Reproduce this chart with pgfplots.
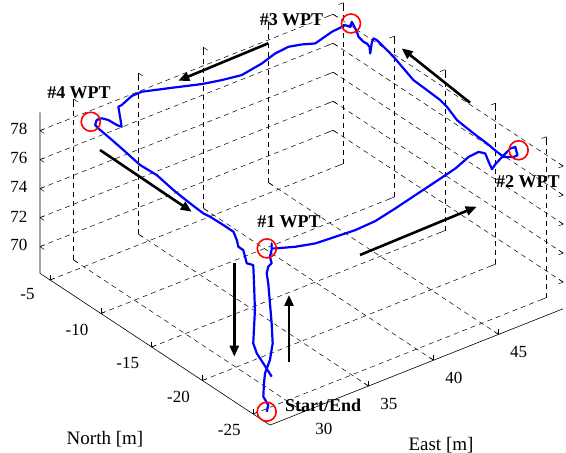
\documentclass[border=0pt]{standalone}
\usepackage{pgfplots}
\pgfplotsset{compat=1.18}
\usepackage{fontspec}
\setmainfont{Liberation Serif}
\usetikzlibrary{arrows.meta}
\begin{document}
\begin{tikzpicture}
\begin{axis}[
  x={(13pt,5.16pt)}, y={(-10.15pt,6.7pt)}, z={(0pt,14.5pt)},
  xmin=27.42, xmax=49.97, ymin=-26.66, ymax=-4, zmin=68.16, zmax=79.26,
  xtick={30,35,40,45}, ytick={-25,-20,-15,-10,-5}, ztick={70,72,74,76,78},
  grid=major,
  major grid style={black, line width=0.5pt, dash pattern=on 5pt off 4pt},
  axis line style={draw=none},
  tick style={black, line width=0.5pt},
  major tick length=5pt,
  tick label style={font=\fontsize{17}{17}\selectfont},
  xticklabel style={xshift=14pt, yshift=-6pt},
  yticklabel style={xshift=-15pt, yshift=-3pt},
  zticklabel style={xshift=-9pt},
  /pgf/number format/assume math mode=true,
  clip=false,
]
\draw[black, line width=0.6pt] (axis cs:27.42,-4,79.26) -- (axis cs:27.42,-4,68.16)
  -- (axis cs:27.42,-26.66,68.16) -- (axis cs:49.97,-26.66,68.16);
\coordinate (C) at (axis cs:27.42,-4,68.16);
\addplot3[blue, line width=2.2pt, line join=round] coordinates {
(28.65,-24.76,67.77) (28.77,-24.76,68.19) (28.39,-24.76,68.90) (28.44,-24.76,69.80)
(28.52,-24.76,70.47) (28.90,-24.76,71.25) (29.11,-24.76,72.32) (29.03,-24.76,73.73)
(28.90,-24.76,75.16) (28.77,-24.76,76.58) (28.65,-24.76,77.31) (28.77,-24.76,77.73)
(29.03,-24.76,77.87) (28.90,-24.76,78.37) (29.03,-24.76,78.79) (29.03,-24.76,79.25)
(29.03,-24.76,78.90)
(29.09,-25.03,79) (30.17,-25.62,79) (31.38,-26.05,79) (32.82,-26.17,79)
(34.27,-26.29,79) (35.88,-26.19,79) (37.77,-25.75,79) (39.70,-25.25,79)
(41.62,-24.76,79) (43.56,-24.25,79) (45.04,-23.66,79) (45.89,-23.56,79)
(46.09,-23.96,79) (45.64,-24.87,79) (45.27,-25.67,79) (45.79,-25.33,79)
(46.65,-24.90,79) (47.66,-24.42,79) (48.01,-24.46,79) (47.51,-25.31,79)
(47.20,-25.33,79) (46.72,-24.96,79)
(46.77,-24.25,79) (46.90,-23.09,79) (46.99,-21.66,79) (47.16,-19.81,79)
(47.64,-18.20,79) (47.81,-17.33,79) (47.90,-15.90,79) (47.98,-14.47,79)
(48.35,-13.01,79) (48.72,-11.56,79) (48.89,-10.69,79) (49.13,-9.39,79)
(49.10,-9.10,79) (48.77,-9.36,79) (47.84,-10.38,79) (48.29,-9.74,79)
(48.41,-9.32,79) (48.37,-9.05,79) (48.49,-8.40,79) (48.78,-7.87,79)
(49.10,-7.12,79) (49.26,-6.75,79) (48.82,-7.16,79) (48.70,-6.81,79)
(48.42,-6.85,79) (47.58,-6.94,79) (45.93,-7.41,79) (45.22,-7.01,79)
(44.40,-6.73,79) (43.28,-6.86,79) (41.91,-7.30,79) (40.10,-7.64,79)
(38.78,-7.37,79) (37.53,-7.00,79) (36.00,-6.32,79) (34.08,-5.49,79)
(33.29,-5.52,79) (32.15,-5.99,79) (31.87,-6.02,79) (31.22,-7.02,79)
(30.57,-8.01,79) (30.46,-7.67,79) (30.42,-6.89,79) (30.23,-6.49,79)
(29.86,-6.46,79) (29.42,-6.87,79)
(29.33,-7.30,79) (29.17,-8.66,79) (28.96,-10.25,79) (28.67,-12.26,79)
(28.74,-13.81,79) (28.45,-15.83,79) (28.28,-17.69,79) (28.19,-19.11,79)
(28.27,-19.68,79) (28.30,-20.94,79) (28.30,-21.94,79) (27.85,-22.84,79)
(27.44,-23.52,79)
(27.86,-23.46,78.60) (28.00,-23.46,78.09) (28.13,-23.46,77.59) (28.63,-23.46,77.29)
(28.69,-23.46,76.01) (28.76,-23.46,74.14) (28.63,-23.46,71.89) (28.90,-23.46,71.11)
(29.40,-23.46,70.24) (30.05,-23.46,69.09)
};
\addplot3[only marks, mark=o, mark size=9.5pt, red, line width=1.6pt] coordinates {
(28.69,-24.72,79) (47.93,-24.89,79) (49.10,-6.87,79) (29.45,-6.40,79) (28.65,-24.76,67.77)
};
\end{axis}
\begin{scope}[shift={(C)}, x=1pt, y=-1pt]
\tikzset{arr/.style={line width=2.6pt, -{Triangle[length=11pt,width=9pt]}}}
\draw[arr] (228.3,-230) -- (138.3,-192.6);
\draw[arr] (430,-170.6) -- (361.7,-225);
\draw[arr] (320,-18.3) -- (436.7,-66.6);
\draw[arr] (60,-123.3) -- (151.7,-61.6);
\draw[arr] (194.3,-10) -- (194.3,83.4);
\draw[arr] (249,88.4) -- (249,21.7);
\tikzset{wpt/.style={font=\fontsize{18}{18}\selectfont\bfseries, inner sep=0pt}}
\node[wpt] at (39,-180.3) {\#4 WPT};
\node[wpt] at (251.5,-253.3) {\#3 WPT};
\node[wpt, anchor=west] at (456,-91.3) {\#2 WPT};
\node[wpt] at (249,-51.6) {\#1 WPT};
\node[wpt, anchor=west] at (245,131.7) {Start/End};
\node[font=\fontsize{19}{19}\selectfont, inner sep=0pt] at (65,165.7) {North [m]};
\node[font=\fontsize{19}{19}\selectfont, inner sep=0pt] at (401,171.7) {East [m]};
\pgfresetboundingbox
\path[use as bounding box] (-40,-273.3) rectangle (526,179.7);
\end{scope}
\end{tikzpicture}
\end{document}
